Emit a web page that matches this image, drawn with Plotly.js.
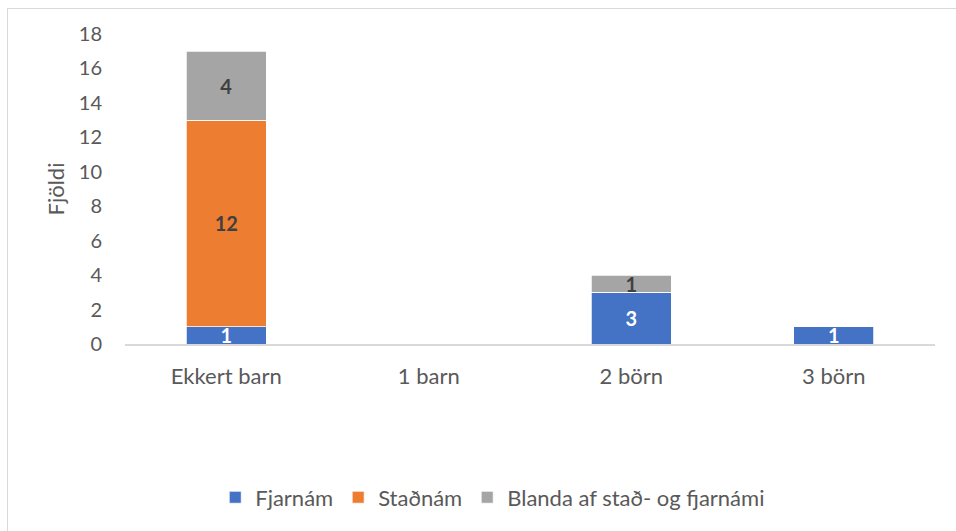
<!DOCTYPE html>
<html>
<head>
<meta charset="utf-8">
<script src="https://cdn.plot.ly/plotly-3.0.1.min.js"></script>
<style>
  html, body { margin: 0; padding: 0; background: #fff; }
  #chart { width: 956px; height: 531px; }
  #frame { position: absolute; left: 7px; top: 8px; width: 1000px; height: 600px;
           border-left: 1.5px solid #d9d9d9; border-top: 1.5px solid #d9d9d9; pointer-events: none; }
</style>
</head>
<body>
<div id="chart"></div>
<div id="frame"></div>
<script>
const categories = ["Ekkert barn", "1 barn", "2 börn", "3 börn"];
const fjarnam = [1, 0, 3, 1];
const stadnam = [12, 0, 0, 0];
const blanda = [4, 0, 1, 0];
const seriesNames = ["Fjarnám", "Staðnám", "Blanda af stað- og fjarnámi"];
const yTicks = [0, 2, 4, 6, 8, 10, 12, 14, 16, 18];

const FONT = "Lato, 'Open Sans', sans-serif";
const labelOf = v => v ? String(v) : "";

function mk(name, vals, color, txtColor) {
  return {
    type: "bar", name: name, x: categories, y: vals,
    text: vals.map(labelOf), textposition: "inside", insidetextanchor: "middle",
    textangle: 0, constraintext: "none", cliponaxis: false,
    textfont: { family: FONT, size: 20, color: txtColor, weight: "bold" },
    marker: { color: color, line: { color: "#ffffff", width: 0.75 } },
    hoverinfo: "x+y+name"
  };
}

const data = [
  mk(seriesNames[0], fjarnam, "#4472C4", "#ffffff"),
  mk(seriesNames[1], stadnam, "#ED7D31", "#404040"),
  mk(seriesNames[2], blanda, "#A5A5A5", "#404040")
];

const layout = {
  width: 956, height: 531,
  margin: { l: 125, r: 21, t: 34, b: 187 },
  paper_bgcolor: "#ffffff", plot_bgcolor: "#ffffff",
  barmode: "stack", bargap: 0.605,
  font: { family: FONT, color: "#595959", size: 20 },
  showlegend: true,
  legend: {
    orientation: "h", x: 0.454, xanchor: "center", xref: "paper",
    y: -0.495, yanchor: "middle", font: { size: 22, color: "#595959" },
    traceorder: "normal", itemwidth: 30
  },
  xaxis: {
    type: "category", showgrid: false, zeroline: false,
    showline: true, linecolor: "#d9d9d9", linewidth: 1.5,
    ticks: "outside", ticklen: 12, tickcolor: "rgba(0,0,0,0)",
    tickfont: { size: 22, color: "#595959" }
  },
  yaxis: {
    range: [0, 18], tickvals: yTicks, showgrid: false, zeroline: false, showline: false,
    ticks: "outside", ticklen: 18, tickcolor: "rgba(0,0,0,0)",
    tickfont: { size: 20, color: "#595959" },
    title: { text: "Fjöldi", font: { size: 22, color: "#595959" }, standoff: 8 }
  }
};

Plotly.newPlot("chart", data, layout, { displayModeBar: false, staticPlot: true });
</script>
</body>
</html>
